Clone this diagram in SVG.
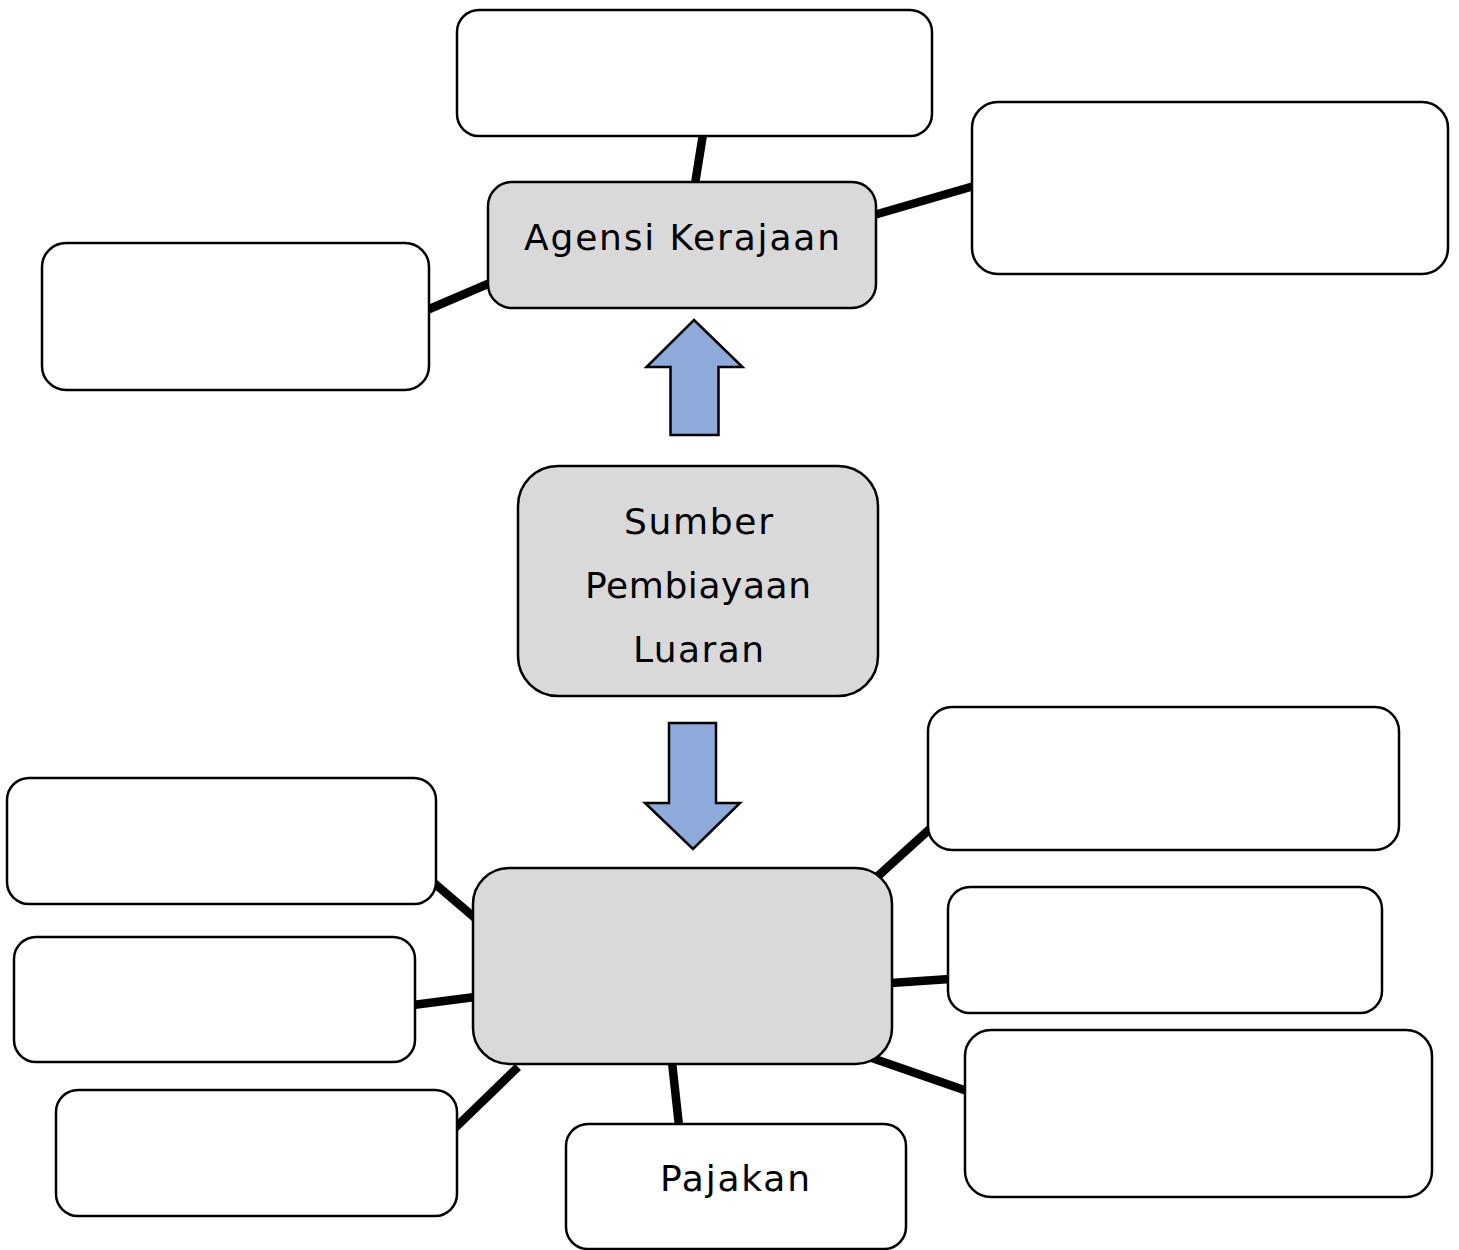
<svg xmlns="http://www.w3.org/2000/svg" width="1459" height="1250" viewBox="0 0 1459 1250">
<style>
.box{fill:#ffffff;stroke:#000000;stroke-width:2.5}
.hub{fill:#d9d9d9;stroke:#000000;stroke-width:2.5}
.arrow{fill:#8eaadb;stroke:#000000;stroke-width:2.5;stroke-linejoin:miter}
.conn{stroke:#000000;stroke-width:8.5;fill:none}
.lbl{font-family:"DejaVu Sans","Liberation Sans",sans-serif;font-size:36px;fill:#000000;text-anchor:middle}
</style>
<rect width="1459" height="1250" fill="#ffffff"/>
<g id="connectors">
<line class="conn" x1="703" y1="134" x2="695" y2="184"/>
<line class="conn" x1="874" y1="215" x2="974" y2="186"/>
<line class="conn" x1="427" y1="310" x2="490" y2="283"/>
<line class="conn" x1="434" y1="883" x2="475" y2="918"/>
<line class="conn" x1="413" y1="1005" x2="475" y2="997"/>
<line class="conn" x1="518" y1="1067" x2="455" y2="1128"/>
<line class="conn" x1="672" y1="1062" x2="679" y2="1126"/>
<line class="conn" x1="878" y1="876" x2="932" y2="827"/>
<line class="conn" x1="891" y1="983" x2="950" y2="979"/>
<line class="conn" x1="872" y1="1058" x2="967" y2="1091"/>
</g>
<g id="arrow-up"><polygon class="arrow" points="694,320 742.5,367 718.5,367 718.5,435 670.5,435 670.5,367 646.5,367"/></g>
<g id="arrow-down"><polygon class="arrow" points="669,723 716,723 716,803 740,803 693,849 645,803 669,803"/></g>
<g id="n-top"><rect class="box" x="457" y="10" width="475" height="126" rx="22"/></g>
<g id="n-topright"><rect class="box" x="972" y="102" width="476" height="172" rx="26"/></g>
<g id="n-left"><rect class="box" x="42" y="243" width="387" height="147" rx="24"/></g>
<g id="n-agensi"><rect class="hub" x="488" y="182" width="388" height="126" rx="24"/><text class="lbl" x="682" y="250" textLength="316" lengthAdjust="spacing">Agensi Kerajaan</text></g>
<g id="n-sumber"><rect class="hub" x="518" y="466" width="360" height="230" rx="40"/><text class="lbl" x="698.5" y="534" textLength="149" lengthAdjust="spacing">Sumber</text><text class="lbl" x="698" y="598" textLength="226" lengthAdjust="spacing">Pembiayaan</text><text class="lbl" x="698.5" y="662" textLength="131" lengthAdjust="spacing">Luaran</text></g>
<g id="n-center"><rect class="hub" x="473" y="868" width="419" height="196" rx="36"/></g>
<g id="n-lu"><rect class="box" x="7" y="778" width="429" height="126" rx="22"/></g>
<g id="n-lm"><rect class="box" x="14" y="937" width="401" height="125" rx="22"/></g>
<g id="n-ll"><rect class="box" x="56" y="1090" width="401" height="126" rx="22"/></g>
<g id="n-pajakan"><rect class="box" x="566" y="1124" width="340" height="125" rx="22"/><text class="lbl" x="735" y="1191" textLength="150" lengthAdjust="spacing">Pajakan</text></g>
<g id="n-ru"><rect class="box" x="928" y="707" width="471" height="143" rx="24"/></g>
<g id="n-rm"><rect class="box" x="948" y="887" width="434" height="126" rx="22"/></g>
<g id="n-rl"><rect class="box" x="965" y="1030" width="467" height="167" rx="26"/></g>
</svg>
